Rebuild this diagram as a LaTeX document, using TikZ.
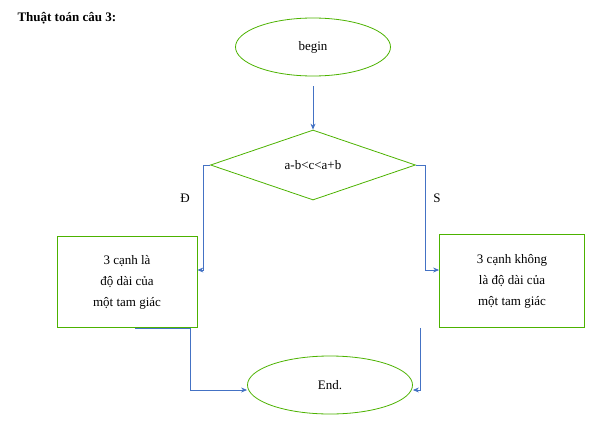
\documentclass[tikz,border=0pt]{standalone}
\usepackage{fontspec}
\setmainfont{Liberation Serif}
\usetikzlibrary{shapes.geometric,arrows.meta}
\begin{document}
\begin{tikzpicture}[x=1pt,y=-1pt,
  every node/.style={font=\fontsize{13}{21}\selectfont},
  ell/.style={ellipse,draw=green!50!black!60!lime,line width=0.8pt,minimum width=155pt,minimum height=58pt},
  box/.style={draw=green!50!black!60!lime,line width=0.8pt,align=center},
  con/.style={draw={rgb,255:red,68;green,114;blue,196},line width=0.8pt,-{Stealth[length=6pt,width=5pt]}}]
\useasboundingbox (0,0) rectangle (600,434);
\node[anchor=west,font=\fontsize{13}{15}\selectfont\bfseries] (t) at (14,18) {Thuật toán câu 3:};
\node[ell] (b) at (313,47) {begin};
\node[diamond,aspect=2.9,draw=green!50!black!60!lime,line width=0.8pt,minimum width=205pt,minimum height=70pt,inner sep=0pt] (d) at (313,165) {a-b<c<a+b};
\node[box,minimum width=140pt,minimum height=91pt] (l) at (127,282) {3 cạnh là\\độ dài của\\một tam giác};
\node[box,minimum width=145pt,minimum height=93pt] (r) at (512,281) {3 cạnh không\\là độ dài của\\một tam giác};
\node[ell,minimum width=165pt] (e) at (330,385) {End.};
\node (dl) at (185,198) {Đ};
\node (sl) at (437,198) {S};
\draw[con] (313,86) -- (d.north);
\draw[con] (d.west) -- (203,165) -- (203,270) -- (l.east |- 0,270);
\draw[con] (d.east) -- (425,165) -- (425,270) -- (r.west |- 0,270);
\draw[con] (135,328) -- (190,328) -- (190,390) -- (e.west |- 0,390);
\draw[con] (r.south -| 420,0) -- (420,390) -- (e.east |- 0,390);
\end{tikzpicture}
\end{document}
